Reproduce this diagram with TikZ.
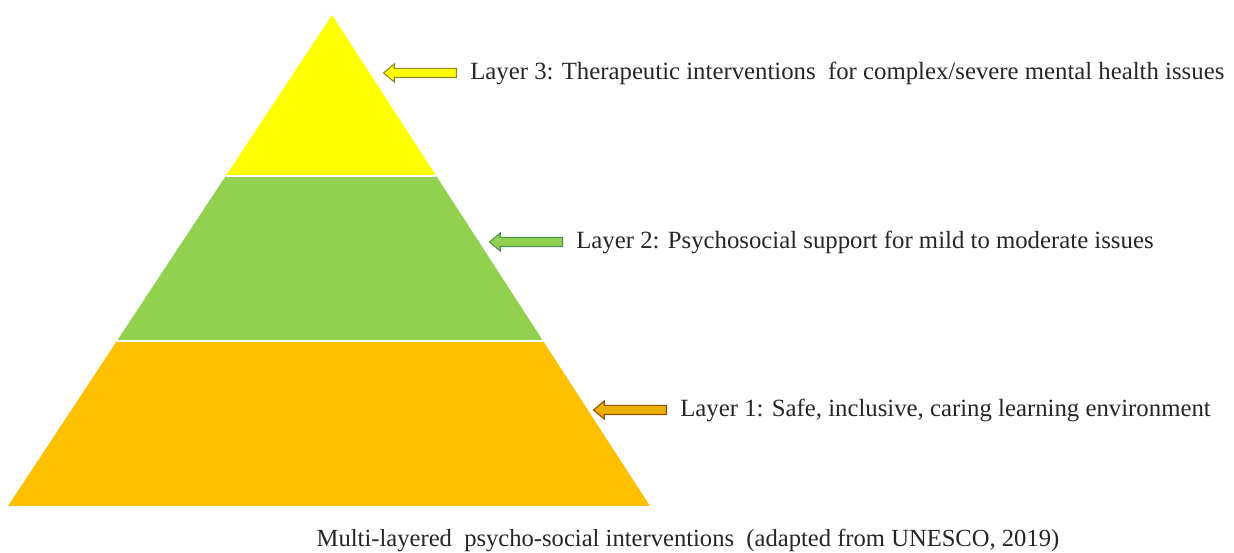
\documentclass[tikz,border=0pt]{standalone}
\usepackage{fontspec}
\setmainfont{Liberation Serif}
\usetikzlibrary{calc,positioning,shapes.arrows}
\definecolor{layerone}{HTML}{FFC000}
\definecolor{layertwo}{HTML}{92D050}
\definecolor{layerthree}{HTML}{FFFF00}
\definecolor{txtgray}{HTML}{262626}
\tikzset{
  layertext/.style={font=\fontsize{14.1}{16}\selectfont,text=txtgray,inner sep=0pt,anchor=west},
  layerarrow/.style={single arrow,shape border rotate=180,inner sep=0.08cm,minimum height=1.46cm,
    single arrow head extend=0.09cm,single arrow tip angle=80,line width=0.6pt}
}
\begin{document}
\begin{tikzpicture}[x=0.02cm,y=-0.02cm]
\useasboundingbox(0,0)rectangle(1234,553);
% pyramid corners
\coordinate(apex)at(332,15);
\coordinate(bl)at(8,506);
\coordinate(br)at(650,506);
\coordinate(l2)at($(apex)!0.328!(bl)$);
\coordinate(r2)at($(apex)!0.328!(br)$);
\coordinate(l1)at($(apex)!0.664!(bl)$);
\coordinate(r1)at($(apex)!0.664!(br)$);
\fill[layerthree](apex)--(r2)--(l2)--cycle;
\fill[layertwo](l2)--(r2)--(r1)--(l1)--cycle;
\fill[layerone](l1)--(r1)--(br)--(bl)--cycle;
\draw[white,line width=0.8pt](l2)--(r2);
\draw[white,line width=0.8pt](l1)--(r1);
% labels
\node[layertext](t3)at(470,73){Layer 3: Therapeutic interventions\ \ for complex/severe mental health issues};
\node[layertext](t2)at(576,242){Layer 2: Psychosocial support for mild to moderate issues};
\node[layertext](t1)at(680,410){Layer 1: Safe,\ inclusive,\ caring learning\ environment};
\node[layerarrow,fill=layerthree,draw=olive!70!gray,left=0.26cm of t3.west,anchor=tail](a3){};
\node[layerarrow,fill=layertwo,draw=green!40!black!70,left=0.26cm of t2.west,anchor=tail](a2){};
\node[layerarrow,fill=layerone!92!black,draw=orange!60!black,left=0.26cm of t1.west,anchor=tail](a1){};
\node[font=\fontsize{14}{16}\selectfont,text=txtgray](cap)at(688,540){Multi-layered\ \ psycho-social interventions\ \ (adapted from UNESCO, 2019)};
\end{tikzpicture}
\end{document}
